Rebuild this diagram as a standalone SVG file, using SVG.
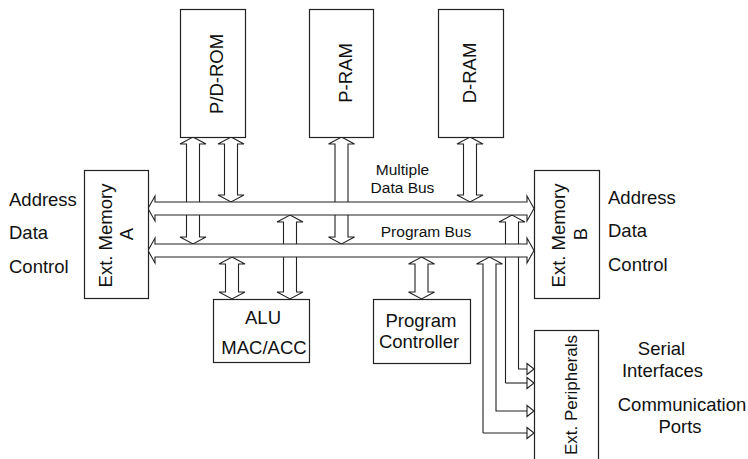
<svg xmlns="http://www.w3.org/2000/svg" width="748" height="459" viewBox="0 0 748 459">
<style>
.box{fill:#fff;stroke:#222;stroke-width:1.2}
.arr{fill:#fff;stroke:#222;stroke-width:1.1;stroke-linejoin:miter}
.ln{fill:none;stroke:#222;stroke-width:1.1}
text{font-family:"Liberation Sans",Arial,sans-serif;font-size:18.5px;fill:#111}
.sm{font-size:15.5px}
.c{text-anchor:middle}
</style>
<rect width="748" height="459" fill="#fff"/>
<g id="connectors">
<polygon class="arr" points="193,137 206,144 199.5,144 199.5,237 206,237 193,244 180,237 186.5,237 186.5,144 180,144"/>
<polygon class="arr" points="231,137 244,144 237.5,144 237.5,195 244,195 231,202 218,195 224.5,195 224.5,144 218,144"/>
<polygon class="arr" points="341.5,137 354.5,144 348,144 348,237 354.5,237 341.5,244 328.5,237 335,237 335,144 328.5,144"/>
<polygon class="arr" points="470,137 483,144 476.5,144 476.5,195 483,195 470,202 457,195 463.5,195 463.5,144 457,144"/>
<polygon class="arr" points="232,257 245,264 238.5,264 238.5,292 245,292 232,299 219,292 225.5,292 225.5,264 219,264"/>
<polygon class="arr" points="290,215 303,222 296.5,222 296.5,292 303,292 290,299 277,292 283.5,292 283.5,222 277,222"/>
<polygon class="arr" points="421.5,257 434.5,264 428,264 428,292 434.5,292 421.5,299 408.5,292 415,292 415,264 408.5,264"/>
<path class="ln" d="M505.5,383 V222 H499 L512,215 L525,222 H518.5 V369 H527"/>
<path class="ln" d="M483,433 V264 H476.5 L489.5,257 L502.5,264 H496 V411 H527"/>
<path class="ln" d="M505.5,383 H527"/>
<path class="ln" d="M483,433 H527"/>
<polygon class="arr" points="527,363.5 534,369 527,374.5"/>
<polygon class="arr" points="527,377.5 534,383 527,388.5"/>
<polygon class="arr" points="527,405.5 534,411 527,416.5"/>
<polygon class="arr" points="527,427.5 534,433 527,438.5"/>
<polygon class="arr" points="148,208.5 155,196 155,202 527,202 527,196 534,208.5 527,221 527,215 155,215 155,221"/>
<polygon class="arr" points="148,250.5 155,238 155,244 527,244 527,238 534,250.5 527,263 527,257 155,257 155,263"/>
</g>
<g id="pdrom"><rect class="box" x="180.5" y="9.5" width="65" height="128"/><text class="c" transform="translate(223,74) rotate(-90)">P/D-ROM</text></g>
<g id="pram"><rect class="box" x="309.5" y="9.5" width="64" height="128"/><text class="c" transform="translate(352,73) rotate(-90)">P-RAM</text></g>
<g id="dram"><rect class="box" x="438.5" y="9.5" width="65" height="128"/><text class="c" transform="translate(476,73) rotate(-90)">D-RAM</text></g>
<g id="extmemA"><rect class="box" x="84.5" y="170.5" width="64" height="128"/><text class="c" transform="translate(112,235.5) rotate(-90)">Ext. Memory</text><text class="c" transform="translate(133,234) rotate(-90)">A</text></g>
<g id="extmemB"><rect class="box" x="534.5" y="170.5" width="65" height="128"/><text class="c" transform="translate(565,235.5) rotate(-90)">Ext. Memory</text><text class="c" transform="translate(587,234) rotate(-90)">B</text></g>
<g id="alu"><rect class="box" x="213.5" y="299.5" width="96" height="63"/><text class="c" x="263" y="324">ALU</text><text class="c" x="264" y="354">MAC/ACC</text></g>
<g id="progctrl"><rect class="box" x="373.5" y="299.5" width="97" height="64"/><text class="c" x="421" y="327">Program</text><text class="c" x="419" y="348">Controller</text></g>
<g id="extperiph"><rect class="box" x="534.5" y="330.5" width="64" height="140"/><text transform="translate(577,455) rotate(-90)" style="font-size:17px">Ext. Peripherals</text></g>
<g id="labels">
<text x="9" y="206">Address</text>
<text x="9" y="239">Data</text>
<text x="9" y="273">Control</text>
<text x="608" y="204">Address</text>
<text x="608" y="237">Data</text>
<text x="608" y="271">Control</text>
<text class="sm c" x="402.5" y="175">Multiple</text>
<text class="sm c" x="402.5" y="193">Data Bus</text>
<text class="sm c" x="426" y="237">Program Bus</text>
<text class="c" x="661.5" y="355">Serial</text>
<text class="c" x="662.5" y="377">Interfaces</text>
<text class="c" x="682" y="411">Communication</text>
<text class="c" x="680" y="433">Ports</text>
</g>
</svg>
